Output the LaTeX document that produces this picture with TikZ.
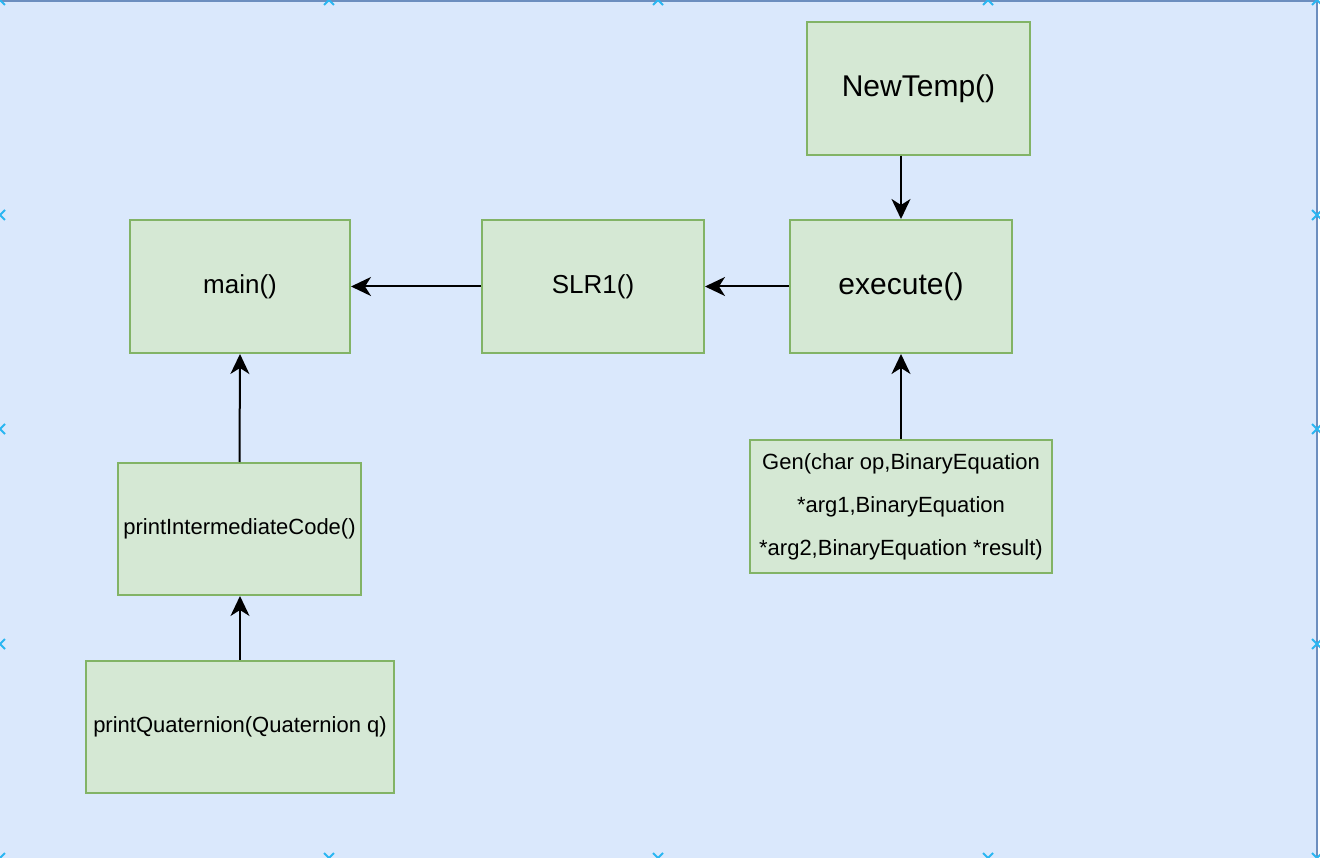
\documentclass[tikz,border=0pt]{standalone}
\usepackage{fontspec}
\setmainfont{Liberation Sans}
\usetikzlibrary{arrows.meta}
\definecolor{bgfill}{HTML}{DAE8FC}
\definecolor{bgline}{HTML}{6C8EBF}
\definecolor{boxfill}{HTML}{D5E8D4}
\definecolor{boxline}{HTML}{82B366}
\definecolor{handle}{HTML}{29B6F2}
\begin{document}
\begin{tikzpicture}[x=1pt,y=-1pt,
  fn/.style={draw=boxline, fill=boxfill, line width=2pt, inner sep=0pt, align=center, text=black},
  small/.style={font=\fontsize{22}{43}\selectfont},
  mid/.style={font=\fontsize{26}{30}\selectfont},
  big/.style={font=\fontsize{30}{34}\selectfont},
  arr/.style={line width=2pt, draw=black, -{Stealth[length=20pt,width=19pt,inset=6pt]}},
  hmark/.style={draw=handle, line width=2pt}]
\useasboundingbox (0,0) rectangle (1320,858);
\clip (0,0) rectangle (1320,858);
\fill[white] (0,0) rectangle (1320,858);
\draw[bgline, fill=bgfill, line width=2pt] (-2,1) rectangle (1317,862);
% handle markers
\foreach \hx/\hy in {0/0,329/0,658/0,988/0,1317/0,1317/215,1317/429,1317/644,1317/858,0/215,0/429,0/644,0/858,329/858,658/858,988/858}{
  \draw[hmark] (\hx-5,\hy-5) -- (\hx+5,\hy+5) (\hx-5,\hy+5) -- (\hx+5,\hy-5);
}
% nodes
\node[fn, big, minimum width=223pt, minimum height=133pt] (newtemp) at (918.5,88.5) {NewTemp()};
\node[fn, mid, minimum width=220pt, minimum height=133pt] (main) at (240,286.5) {main()};
\node[fn, mid, minimum width=222pt, minimum height=133pt] (slr) at (593,286.5) {SLR1()};
\node[fn, big, minimum width=222pt, minimum height=133pt] (exec) at (901,286.5) {execute()};
\node[fn, small, minimum width=302pt, minimum height=133pt] (gen) at (901,506.5) {Gen(char op,BinaryEquation\\*arg1,BinaryEquation\\*arg2,BinaryEquation *result)};
\node[fn, small, minimum width=243pt, minimum height=132pt] (pic) at (239.5,529) {printIntermediateCode()};
\node[fn, small, minimum width=308pt, minimum height=132pt] (pq) at (240,727) {printQuaternion(Quaternion q)};
% connectors
\draw[arr] (newtemp.south -| exec.north) -- (exec.north);
\draw[arr] (exec.west) -- (slr.east);
\draw[arr] (slr.west) -- (main.east);
\draw[arr] (gen.north) -- (exec.south);
\draw[arr] (pic.north) -- (main.south);
\draw[arr] (pq.north) -- (pic.south -| pq.north);
\end{tikzpicture}
\end{document}
